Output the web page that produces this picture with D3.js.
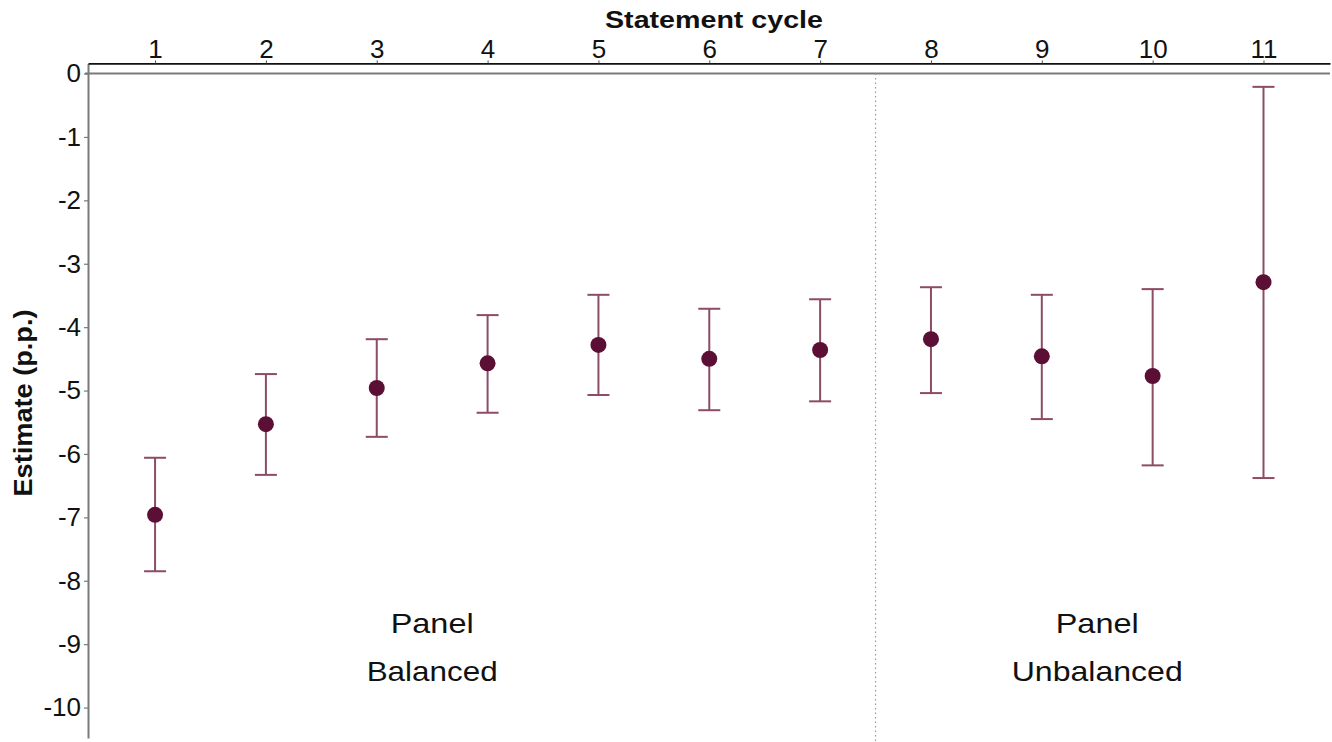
<!DOCTYPE html>
<html>
<head>
<meta charset="utf-8">
<script src="https://cdn.jsdelivr.net/npm/d3@7"></script>
<style>
  html, body { margin: 0; padding: 0; background: #fff; }
  svg { display: block; }
  text { font-family: "Liberation Sans", Arial, sans-serif; }
</style>
</head>
<body>
<svg id="chart" width="1332" height="742"></svg>
<script>
// ---- data ----
const cycles   = [1, 2, 3, 4, 5, 6, 7, 8, 9, 10, 11];
const estimate = [-6.96, -5.53, -4.96, -4.57, -4.28, -4.50, -4.36, -4.19, -4.46, -4.77, -3.29];
const upper    = [-6.06, -4.74, -4.19, -3.81, -3.49, -3.71, -3.56, -3.37, -3.49, -3.40, -0.21];
const lower    = [-7.85, -6.33, -5.73, -5.35, -5.07, -5.31, -5.17, -5.04, -5.45, -6.18, -6.38];
const yTicks   = [0, -1, -2, -3, -4, -5, -6, -7, -8, -9, -10];
const splitAt  = 7.5;
const panelLabels = [
  { center: 3.5, lines: ["Panel", "Balanced"] },
  { center: 9.5, lines: ["Panel", "Unbalanced"] }
];

// ---- layout ----
const svg = d3.select("#chart");
const x = d3.scaleLinear().domain([0.395, 11.6]).range([88, 1330]);
const y = d3.scaleLinear().domain([0.16, -10.48]).range([63.4, 738]);

const errColor = "#8c4c66";
const ptColor  = "#5b0f35";

// zero reference line (gray)
svg.append("line")
  .attr("x1", 85).attr("x2", 1330)
  .attr("y1", y(0)).attr("y2", y(0))
  .attr("stroke", "#7a7a7a").attr("stroke-width", 2);

// dotted separator
svg.append("line")
  .attr("x1", x(splitAt)).attr("x2", x(splitAt))
  .attr("y1", y(0)).attr("y2", 742)
  .attr("stroke", "#9a9a9a").attr("stroke-width", 1.2)
  .attr("stroke-dasharray", "1.5,3");

// left axis
const yAxis = d3.axisLeft(y).tickValues(yTicks).tickSize(4).tickSizeOuter(0)
  .tickFormat(d => String(d));
const gy = svg.append("g").attr("transform", `translate(${x.range()[0]},0)`).call(yAxis);
gy.select(".domain").attr("stroke", "#7a7a7a").attr("stroke-width", 2);
gy.selectAll(".tick line").attr("stroke", "#7a7a7a").attr("stroke-width", 1.2);
gy.selectAll(".tick text").attr("font-size", 26).attr("fill", "#111")
  .attr("font-family", "Liberation Sans, Arial, sans-serif").attr("x", -7);

// top axis
const xAxis = d3.axisTop(x).tickValues(cycles).tickSize(3).tickSizeOuter(0)
  .tickFormat(d => String(d));
const gx = svg.append("g").attr("transform", `translate(0,${y.range()[0]})`).call(xAxis);
gx.select(".domain").attr("stroke", "#111").attr("stroke-width", 1.6);
gx.selectAll(".tick line").attr("stroke", "#555").attr("stroke-width", 1);
gx.selectAll(".tick text").attr("font-size", 26).attr("fill", "#111")
  .attr("font-family", "Liberation Sans, Arial, sans-serif").attr("y", -5);

// error bars
const rows = cycles.map((c, i) => ({ c, est: estimate[i], lo: lower[i], hi: upper[i] }));
const eb = svg.append("g");
eb.selectAll(".v").data(rows).join("line")
  .attr("x1", d => x(d.c)).attr("x2", d => x(d.c))
  .attr("y1", d => y(d.hi)).attr("y2", d => y(d.lo))
  .attr("stroke", errColor).attr("stroke-width", 2);
eb.selectAll(".capT").data(rows).join("line")
  .attr("x1", d => x(d.c) - 11).attr("x2", d => x(d.c) + 11)
  .attr("y1", d => y(d.hi)).attr("y2", d => y(d.hi))
  .attr("stroke", errColor).attr("stroke-width", 2);
eb.selectAll(".capB").data(rows).join("line")
  .attr("x1", d => x(d.c) - 11).attr("x2", d => x(d.c) + 11)
  .attr("y1", d => y(d.lo)).attr("y2", d => y(d.lo))
  .attr("stroke", errColor).attr("stroke-width", 2);

// points
svg.append("g").selectAll("circle").data(rows).join("circle")
  .attr("cx", d => x(d.c)).attr("cy", d => y(d.est)).attr("r", 8)
  .attr("fill", ptColor);

// titles
svg.append("text")
  .attr("x", 714).attr("y", 28)
  .attr("text-anchor", "middle").attr("font-weight", "bold").attr("font-size", 24)
  .attr("textLength", 218).attr("lengthAdjust", "spacingAndGlyphs")
  .attr("fill", "#111").text("Statement cycle");

svg.append("text")
  .attr("transform", "translate(32,403) rotate(-90)")
  .attr("text-anchor", "middle").attr("font-weight", "bold").attr("font-size", 26)
  .attr("textLength", 187).attr("lengthAdjust", "spacingAndGlyphs")
  .attr("fill", "#111").text("Estimate (p.p.)");

// panel labels
const lineWidths = { "Panel": 83, "Balanced": 131, "Unbalanced": 171 };
panelLabels.forEach(p => {
  p.lines.forEach((t, j) => {
    svg.append("text")
      .attr("x", x(p.center))
      .attr("y", j === 0 ? 633 : 681)
      .attr("text-anchor", "middle").attr("font-size", 28)
      .attr("textLength", lineWidths[t]).attr("lengthAdjust", "spacingAndGlyphs")
      .attr("fill", "#111").text(t);
  });
});
</script>
</body>
</html>
